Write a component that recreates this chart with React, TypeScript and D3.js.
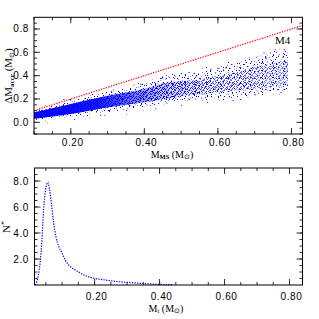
import * as d3 from "d3";

// upper panel: accreted mass vs main-sequence mass (cluster M4)
const topXTicks = [0.2, 0.4, 0.6, 0.8];
const topYTicks = [0.0, 0.2, 0.4, 0.6, 0.8];
const bandMass = [0.1, 0.2, 0.3, 0.4, 0.46, 0.555, 0.646, 0.736, 0.79];
const outerLow = [0.015, 0.05, 0.085, 0.128, 0.165, 0.2, 0.21, 0.256, 0.27];
const outerHigh = [0.1, 0.19, 0.262, 0.342, 0.41, 0.44, 0.51, 0.585, 0.62];
const coreLow = [0.03, 0.072, 0.128, 0.171, 0.2, 0.243, 0.27, 0.3, 0.31];
const coreHigh = [0.085, 0.157, 0.228, 0.285, 0.34, 0.37, 0.43, 0.5, 0.53];
// isolated stars outside the main band
const strayMass = [0.706, 0.724, 0.755, 0.767, 0.78, 0.787, 0.785, 0.76, 0.742, 0.707, 0.66, 0.46, 0.497, 0.541, 0.209, 0.136, 0.62, 0.58, 0.69, 0.73, 0.52, 0.35, 0.28, 0.43, 0.6, 0.77, 0.64, 0.68, 0.7, 0.5, 0.45, 0.39, 0.31, 0.25, 0.18, 0.57, 0.75, 0.72];
const strayDM = [0.57, 0.598, 0.627, 0.632, 0.627, 0.513, 0.4, 0.285, 0.277, 0.271, 0.285, 0.17, 0.2, 0.4, 0.029, 0.0, 0.47, 0.46, 0.52, 0.55, 0.43, 0.07, 0.065, 0.12, 0.2, 0.26, 0.19, 0.22, 0.24, 0.15, 0.38, 0.33, 0.27, 0.04, 0.2, 0.175, 0.245, 0.29];
const diagonal = [0.1, 0.83];

// lower panel: distribution of initial masses
const botXTicks = [0.2, 0.4, 0.6, 0.8];
const botYTicks = [2, 4, 6, 8];
const histMass = [0.018, 0.026, 0.033, 0.038, 0.043, 0.049, 0.056, 0.061, 0.067, 0.074, 0.081, 0.09, 0.1, 0.11, 0.126, 0.146, 0.167, 0.198, 0.234, 0.275, 0.316, 0.36, 0.4, 0.44];
const histN = [0, 0.64, 1.9, 3.5, 5.8, 7.3, 7.9, 7.4, 6.3, 4.75, 3.7, 2.95, 2.45, 1.9, 1.4, 1.08, 0.77, 0.52, 0.38, 0.25, 0.18, 0.1, 0.05, 0.02];

const sans = "'Liberation Sans', Arial, sans-serif";
const serif = "'Liberation Serif', 'Times New Roman', serif";

// speckle tiles used to texture the scatter band (style only)
const tileA = [[0, 0], [5, 1], [9, 2], [2, 4], [11, 5], [7, 6], [3, 8], [10, 9], [6, 10], [12, 7]];
const tileB = [[1, 1], [6, 3], [9, 5], [3, 6], [8, 0]];
const tileC = [[0, 0], [3, 1], [5, 3], [1, 3], [4, 4], [6, 0], [2, 2], [5, 1], [0, 4], [6, 2], [3, 3]];
const tileD = [[2, 3], [11, 9], [7, 14], [15, 4]];

function Frame({ x, y, xMajor, xMinor, yMajor, yMinor }: any) {
  const [x0, x1] = x.range();
  const [y0, y1] = y.range();
  const tk = "#333";
  return (
    <g>
      {xMinor.map((v: number, i: number) => (
        <g key={"xm" + i}>
          <line x1={x(v)} x2={x(v)} y1={y0} y2={y0 - 3} stroke={tk} />
          <line x1={x(v)} x2={x(v)} y1={y1} y2={y1 + 3} stroke={tk} />
        </g>
      ))}
      {xMajor.map((v: number, i: number) => (
        <g key={"xM" + i}>
          <line x1={x(v)} x2={x(v)} y1={y0} y2={y0 - 6} stroke={tk} />
          <line x1={x(v)} x2={x(v)} y1={y1} y2={y1 + 6} stroke={tk} />
        </g>
      ))}
      {yMinor.map((v: number, i: number) => (
        <g key={"ym" + i}>
          <line x1={x0} x2={x0 + 3} y1={y(v)} y2={y(v)} stroke={tk} />
          <line x1={x1} x2={x1 - 3} y1={y(v)} y2={y(v)} stroke={tk} />
        </g>
      ))}
      {yMajor.map((v: number, i: number) => (
        <g key={"yM" + i}>
          <line x1={x0} x2={x0 + 6} y1={y(v)} y2={y(v)} stroke={tk} />
          <line x1={x1} x2={x1 - 6} y1={y(v)} y2={y(v)} stroke={tk} />
        </g>
      ))}
      <rect x={x0} y={y1} width={x1 - x0} height={y0 - y1} fill="none" stroke="#000" />
    </g>
  );
}

function Tile({ id, w, h, dots, colors }: any) {
  return (
    <pattern id={id} width={w} height={h} patternUnits="userSpaceOnUse">
      {dots.map((d: number[], i: number) => (
        <rect key={i} x={d[0]} y={d[1]} width={1} height={1} fill={colors[i % colors.length]} />
      ))}
    </pattern>
  );
}

export default function App() {
  // upper panel scales
  const x1 = d3.scaleLinear().domain([0.1, 0.83]).range([34, 302.5]);
  const y1 = d3.scaleLinear().domain([-0.1, 0.9]).range([134, 17.3]);
  // lower panel scales
  const x2 = d3.scaleLinear().domain([0.015, 0.84]).range([34.5, 302.5]);
  const y2 = d3.scaleLinear().domain([0, 9]).range([285, 168]);

  const idx = d3.range(bandMass.length);
  const band = (lo: number[], hi: number[], pad: number) =>
    d3.area<number>()
      .x((i) => x1(bandMass[i]))
      .y0((i) => y1(lo[i] - pad))
      .y1((i) => y1(hi[i] + pad))
      .curve(d3.curveMonotoneX)(idx) || "";

  const diagLine = d3.line<number>().x((d) => x1(d)).y((d) => y1(d));
  const histLine = d3.line<number>()
    .x((i) => x2(histMass[i]))
    .y((i) => y2(histN[i]))
    .curve(d3.curveMonotoneX);

  const topXMinor = d3.range(0.1, 0.83, 0.05);
  const topYMinor = d3.range(-0.1, 0.9, 0.05);
  const botXMinor = d3.range(0.05, 0.84, 0.05);
  const botYMinor = d3.range(0.5, 9, 0.5);

  return (
    <svg width={319} height={319} style={{ position: "absolute", left: 0, top: 0, background: "#fff" }}>
      <defs>
        <Tile id="dotsA" w={13} h={11} dots={tileA} colors={["#0000ff", "#2020ff", "#8080ff"]} />
        <Tile id="dotsB" w={11} h={7} dots={tileB} colors={["#0000ff", "#9999ff"]} />
        <Tile id="dotsC" w={7} h={5} dots={tileC} colors={["#0000ff", "#0000ff", "#6666ff"]} />
        <Tile id="dotsD" w={17} h={16} dots={tileD} colors={["#0000ff", "#9999ff"]} />
        <linearGradient id="coreFade" gradientUnits="userSpaceOnUse" x1={x1(0.1)} x2={x1(0.79)} y1={0} y2={0}>
          <stop offset="0" stopColor="#0000ff" stopOpacity={1} />
          <stop offset="0.25" stopColor="#0000ff" stopOpacity={0.9} />
          <stop offset="0.5" stopColor="#0000ff" stopOpacity={0.25} />
          <stop offset="0.7" stopColor="#0000ff" stopOpacity={0} />
        </linearGradient>
        <linearGradient id="maskGrad" gradientUnits="userSpaceOnUse" x1={x1(0.1)} x2={x1(0.79)} y1={0} y2={0}>
          <stop offset="0" stopColor="#fff" />
          <stop offset="0.5" stopColor="#fff" />
          <stop offset="1" stopColor="#777" />
        </linearGradient>
        <mask id="fade" maskUnits="userSpaceOnUse" x={0} y={0} width={319} height={319}>
          <rect x={0} y={0} width={319} height={319} fill="url(#maskGrad)" />
        </mask>
      </defs>

      {/* upper panel */}
      <path d={band(outerLow, outerHigh, 0.025)} fill="url(#dotsD)" />
      <path d={band(outerLow, outerHigh, 0)} fill="url(#dotsA)" />
      <path d={band(outerLow, outerHigh, -0.01)} fill="url(#dotsB)" />
      <path d={band(coreLow, coreHigh, 0)} fill="url(#dotsC)" mask="url(#fade)" />
      <path d={band(coreLow, coreHigh, 0)} fill="url(#coreFade)" />
      {strayMass.map((m, i) => (
        <rect key={i} x={x1(m)} y={y1(strayDM[i])} width={1} height={1} fill={i % 3 ? "#0000ff" : "#8888ff"} />
      ))}
      <path d={diagLine(diagonal) || ""} stroke="#ff0000" strokeWidth={1.2} strokeDasharray="1.3 1.3" fill="none" />
      <Frame x={x1} y={y1} xMajor={topXTicks} xMinor={topXMinor} yMajor={topYTicks} yMinor={topYMinor} />
      {topXTicks.map((v) => (
        <text key={v} x={x1(v) + 2} y={146} fontSize={10} letterSpacing={0.6} textAnchor="middle" fontFamily={sans}>
          {v.toFixed(2)}
        </text>
      ))}
      {topYTicks.map((v) => (
        <text key={v} x={29} y={y1(v) + 3.5} fontSize={10} letterSpacing={0.6} textAnchor="end" fontFamily={sans}>
          {v.toFixed(1)}
        </text>
      ))}
      <text x={x1(0.755)} y={44} fontSize={11} fontFamily={serif}>M4</text>
      <text x={172} y={157.5} fontSize={10} textAnchor="middle" fontFamily={serif}>
        M<tspan fontSize={6.5} dy={1.5} fontWeight="bold">MS</tspan>
        <tspan dy={-1.5}> (M</tspan><tspan fontSize={6.5} dy={1.5}>⊙</tspan><tspan dy={-1.5}>)</tspan>
      </text>
      <text transform="translate(12,76) rotate(-90)" fontSize={11} textAnchor="middle" fontFamily={serif}>
        ΔM<tspan fontSize={7} dy={2} fontWeight="bold">accr</tspan>
        <tspan dy={-2}> (M</tspan><tspan fontSize={7} dy={2}>⊙</tspan><tspan dy={-2}>)</tspan>
      </text>

      {/* lower panel */}
      <path d={histLine(d3.range(histMass.length)) || ""} stroke="#0000ff" strokeWidth={1.2} strokeDasharray="1.3 1.3" fill="none" />
      <Frame x={x2} y={y2} xMajor={botXTicks} xMinor={botXMinor} yMajor={botYTicks} yMinor={botYMinor} />
      {botXTicks.map((v) => (
        <text key={v} x={x2(v) + 2} y={300} fontSize={10} letterSpacing={0.6} textAnchor="middle" fontFamily={sans}>
          {v.toFixed(2)}
        </text>
      ))}
      {botYTicks.map((v) => (
        <text key={v} x={29} y={y2(v) + 3.5} fontSize={10} letterSpacing={0.6} textAnchor="end" fontFamily={sans}>
          {v.toFixed(1)}
        </text>
      ))}
      <text x={166} y={311.5} fontSize={10} textAnchor="middle" fontFamily={serif}>
        M<tspan fontSize={6.5} dy={1.5}>i</tspan>
        <tspan dy={-1.5}> (M</tspan><tspan fontSize={6.5} dy={1.5}>⊙</tspan><tspan dy={-1.5}>)</tspan>
      </text>
      <text transform="translate(10,227) rotate(-90)" fontSize={11} textAnchor="middle" fontFamily={serif}>
        N<tspan fontSize={8} dy={-3}>*</tspan>
      </text>
    </svg>
  );
}
